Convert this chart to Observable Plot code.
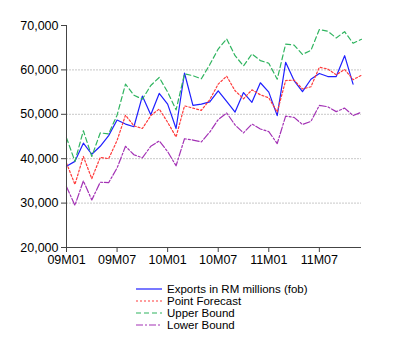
<!DOCTYPE html>
<html>
<head>
<meta charset="utf-8">
<script src="https://cdn.jsdelivr.net/npm/d3@7"></script>
<script src="https://cdn.jsdelivr.net/npm/@observablehq/plot@0.6"></script>
<style>
  html, body { margin: 0; padding: 0; background: #fff; }
  body { width: 400px; height: 356px; font-family: "Liberation Sans", Arial, sans-serif; }
  #legend { position: relative; margin-left: 136px; margin-top: 11px; font-size: 11.5px; color: #000; }
  .row { display: flex; align-items: center; height: 12px; }
  .row svg { margin-right: 5px; }
</style>
</head>
<body>
<div id="chart"></div>
<div id="legend"></div>
<script>
const months = [
  "09M01","09M02","09M03","09M04","09M05","09M06","09M07","09M08","09M09","09M10","09M11","09M12",
  "10M01","10M02","10M03","10M04","10M05","10M06","10M07","10M08","10M09","10M10","10M11","10M12",
  "11M01","11M02","11M03","11M04","11M05","11M06","11M07","11M08","11M09","11M10","11M11","11M12"
];
const tickLabels = ["09M01","09M07","10M01","10M07","11M01","11M07"];
const yTicks = [20000, 30000, 40000, 50000, 60000, 70000];
const gridValues = [30000, 40000, 50000, 60000];

const exportsActual = [38300,39400,43500,41000,42800,45200,48700,47800,47200,54100,49900,54700,
  52300,46800,59300,52000,52300,52800,55300,52900,50500,54900,52700,57100,
  55000,49700,61700,57600,55100,57900,59200,58500,58500,63200,56800,null];
const pointForecast = [39000,34200,40500,35500,40300,40000,44100,49800,47400,46800,49700,51200,
  48200,44900,51900,51400,50900,53300,56800,58600,55300,53500,55500,54400,
  53700,50500,57600,57700,55700,56200,60600,60200,58900,60100,57800,58800];
const upperBound = [44700,39400,46300,40500,45800,45600,49800,56800,54300,53400,56500,58300,
  55000,51000,59100,58700,58000,61200,64700,67000,63200,60900,63600,62100,
  61500,57900,65800,65600,63500,64400,69100,68700,67200,68600,66000,66900];
const lowerBound = [33700,29500,35000,30700,34700,34600,37900,42800,40900,40200,42800,44000,
  41600,38400,44500,44200,43800,46000,48800,50300,47600,45800,47800,46700,
  46100,43400,49600,49300,47700,48400,52000,51700,50600,51400,49700,50500];

const seriesNames = ["Exports in RM millions (fob)", "Point Forecast", "Upper Bound", "Lower Bound"];
const seriesColors = ["#1f1fff", "#ff3b3b", "#2fb45f", "#a332b5"];
const seriesDash = [null, "2,2", "5,3", "7,2,2,2"];
const seriesValues = [exportsActual, pointForecast, upperBound, lowerBound];

const lineMarks = seriesValues.map((vals, s) => {
  const rows = months.map((m, i) => ({month: m, value: vals[i]}));
  return Plot.line(rows, {
    x: "month", y: "value",
    stroke: seriesColors[s], strokeWidth: 1.2,
    strokeDasharray: seriesDash[s] || undefined,
    defined: d => d.value != null
  });
});

const chart = Plot.plot({
  width: 400,
  height: 272,
  marginLeft: 66,
  marginRight: 39,
  marginTop: 25,
  marginBottom: 25,
  style: {fontFamily: "'Liberation Sans', Arial, sans-serif", fontSize: "12.5px", color: "#000", background: "#fff"},
  x: {type: "point", domain: months, padding: 0, round: false},
  y: {domain: [20000, 70000]},
  marks: [
    Plot.ruleY(gridValues, {stroke: "#c8c8c8", strokeDasharray: "2,1", strokeWidth: 1}),
    ...lineMarks,
    Plot.ruleY([20000], {stroke: "#444", strokeWidth: 1}),
    Plot.ruleX([months[0]], {stroke: "#444", strokeWidth: 1}),
    Plot.axisY({ticks: yTicks, tickFormat: d3.format(","), tickSize: 5, tickPadding: 3, stroke: "#444", label: null}),
    Plot.axisX({ticks: tickLabels, tickSize: 5, tickPadding: 3, stroke: "#444", label: null})
  ]
});
document.getElementById("chart").appendChild(chart);

const legend = document.getElementById("legend");
seriesNames.forEach((name, s) => {
  const row = document.createElement("div");
  row.className = "row";
  const dash = seriesDash[s] ? ` stroke-dasharray="${seriesDash[s]}"` : "";
  row.innerHTML = `<svg width="26" height="12"><line x1="0" y1="6" x2="26" y2="6" stroke="${seriesColors[s]}" stroke-width="1.2"${dash}/></svg><span>${name}</span>`;
  legend.appendChild(row);
});
</script>
</body>
</html>
